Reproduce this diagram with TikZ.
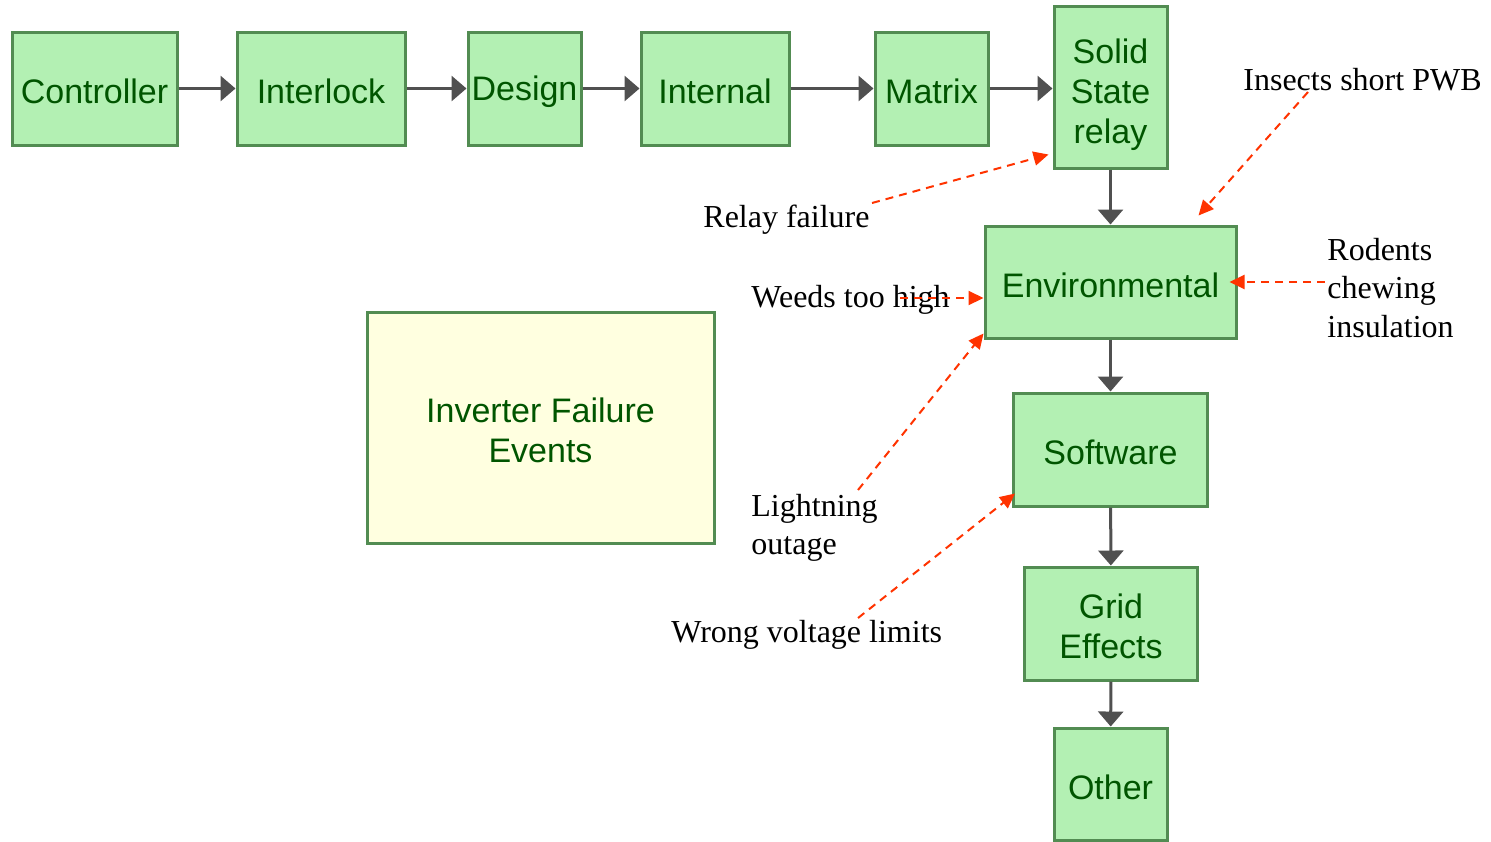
\documentclass[tikz,border=0pt]{standalone}
\usepackage{fontspec}
\setmainfont{Liberation Serif}
\newfontfamily\boxfontfamily{Liberation Sans}
\usetikzlibrary{arrows.meta}
\definecolor{boxgreen}{RGB}{179,240,179}
\definecolor{bordergreen}{RGB}{82,140,82}
\definecolor{textgreen}{RGB}{0,85,0}
\definecolor{invyellow}{RGB}{255,255,224}
\definecolor{linegray}{RGB}{80,80,80}
\definecolor{redline}{RGB}{255,51,0}
\newcommand{\topstrut}[1]{\rule{0pt}{#1}}
\tikzset{
  textdown/.style={execute at begin node={\topstrut{#1}}},
  box/.style={draw=bordergreen, fill=boxgreen, line width=1.5pt, text=textgreen,
    font=\boxfontfamily\fontsize{17}{20}\selectfont, align=center, inner sep=0pt},
  onebox/.style={box, textdown=15.5pt},
  invbox/.style={box, fill=invyellow},
  grayarrow/.style={draw=linegray, line width=1.5pt,
    -{Triangle[length=7.5pt,width=12.5pt]}},
  redarrow/.style={draw=redline, line width=1pt, dash pattern=on 4pt off 3pt,
    -{Triangle[length=7.5pt,width=7pt]}},
  lbl/.style={font=\fontsize{16}{19.2}\selectfont, inner sep=0pt, align=left}
}
\begin{document}
\begin{tikzpicture}[x=0.5pt,y=-0.5pt]
\useasboundingbox (0,0) rectangle (1491,841);
% top row
\node[onebox, minimum width=82.5pt, minimum height=56.5pt] (ctrl) at (94.5,88.5) {Controller};
\node[onebox, minimum width=84pt, minimum height=56.5pt] (inter) at (321,88.5) {Interlock};
\node[onebox, minimum width=56.5pt, minimum height=56.5pt] (design) at (524.5,88.5) {Design};
\node[onebox, minimum width=74pt, minimum height=56.5pt] (internal) at (715,88.5) {Internal};
\node[onebox, minimum width=56.5pt, minimum height=56.5pt] (matrix) at (931.5,88.5) {Matrix};
\node[box, minimum width=56.5pt, minimum height=81pt] (ssr) at (1110.5,87) {\topstrut{20.5pt}Solid\\State\\relay};
% column
\node[onebox, minimum width=125.5pt, minimum height=56pt] (env) at (1110.5,282) {Environmental};
\node[onebox, minimum width=97pt, minimum height=56.5pt] (soft) at (1110.5,449.5) {Software};
\node[box, minimum width=86.5pt, minimum height=56.5pt] (grid) at (1111,623.5) {\topstrut{15.2pt}Grid\\Effects};
\node[onebox, minimum width=56.5pt, minimum height=56pt] (other) at (1110.5,784) {Other};
% inverter box
\node[invbox, minimum width=173.5pt, minimum height=115.5pt] (inv) at (540.5,427.5) {\topstrut{14.7pt}Inverter Failure\\Events};
% gray connectors
\draw[grayarrow] (ctrl) -- (inter);
\draw[grayarrow] (inter) -- (design);
\draw[grayarrow] (design) -- (internal);
\draw[grayarrow] (internal) -- (matrix);
\draw[grayarrow] (matrix.east) -- (matrix.east -| ssr.west);
\draw[grayarrow] (ssr) -- (env);
\draw[grayarrow] (env) -- (soft);
\draw[grayarrow] (soft) -- (grid);
\draw[grayarrow] (grid) -- (other);
% labels
\node[lbl, anchor=base west] (lrelay) at (703,227) {Relay failure};
\node[lbl, anchor=base west] (linsects) at (1243,90) {Insects short PWB};
\node[lbl, anchor=base west] (lweeds) at (751,307) {Weeds too high};
\node[lbl, anchor=west] (lrodents) at (1327,288) {Rodents\\chewing\\insulation};
\node[lbl, anchor=west] (llight) at (751,528) {Lightning\\outage};
\node[lbl, anchor=base west] (lvolt) at (671,642) {Wrong voltage limits};
% red connector starts
\coordinate (sRelay) at (872,203);
\coordinate (sInsects) at (1308,92);
\coordinate (sWeeds) at (900,298);
\coordinate (sRodents) at (1325,282);
\coordinate (sLight) at (858,490);
\coordinate (sVolt) at (858,618);
\draw[redarrow] (sRelay) -- ([shift={(-4,-15)}]ssr.south west);
\draw[redarrow] (sInsects) -- ([shift={(-39,-9)}]env.north east);
\draw[redarrow] (sWeeds) -- ([shift={(0,16)}]env.west);
\draw[redarrow] (sRodents) -- ([shift={(-8,0)}]env.east);
\draw[redarrow] (sLight) -- ([shift={(0,-6)}]env.south west);
\draw[redarrow] (sVolt) -- ([shift={(3,-14)}]soft.south west);
\end{tikzpicture}
\end{document}
